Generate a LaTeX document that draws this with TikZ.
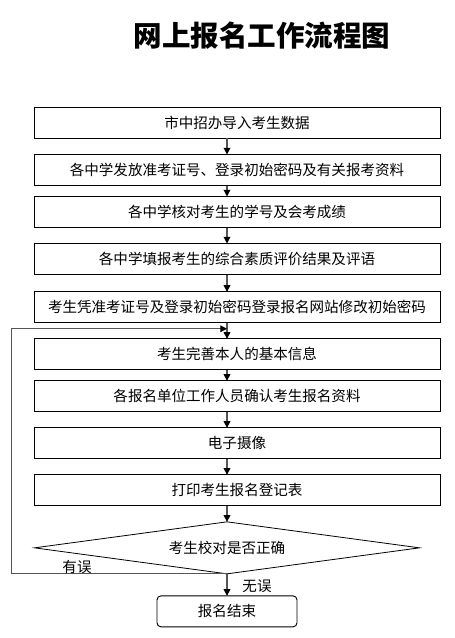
\documentclass[tikz,border=0pt]{standalone}
\usepackage{fontspec}
\setmainfont{Noto Sans CJK SC}
\usepackage{tikz}
\usetikzlibrary{arrows.meta,positioning,calc,shapes.geometric}
\definecolor{mycline}{HTML}{555555}

\begin{document}
\begin{tikzpicture}[
  x=0.75pt,y=-0.75pt,
  node distance=12pt,
  box/.style={draw=black,line width=0.7pt,outer sep=0pt,minimum height=23.25pt,minimum width=304.5pt,inner sep=0pt,align=center,font=\fontsize{10.9}{13}\selectfont},
  check/.style={draw=black,line width=0.6pt,outer sep=0pt,diamond,aspect=7,inner sep=0pt,minimum width=288.75pt,minimum height=39pt,font=\fontsize{10.9}{13}\selectfont},
  stop/.style={draw=black,line width=0.7pt,outer sep=0pt,rounded corners=3pt,minimum height=23.25pt,minimum width=105pt,inner sep=0pt,font=\fontsize{10.9}{13}\selectfont},
  lbl/.style={inner sep=0pt,font=\fontsize{10.9}{13}\selectfont},
  arrow/.style={-{Triangle[length=5pt,width=5pt,color=black]},line width=0.9pt,mycline}
]
\useasboundingbox (0,0) rectangle (454,638);
\node[font=\fontsize{21.4}{25}\selectfont\bfseries] (title) at (262,36) {网上报名工作流程图};

\node[box] (b1) at (237,123) {市中招办导入考生数据};
\node[box,below=of b1] (b2) {各中学发放准考证号、登录初始密码及有关报考资料};
\node[box,below=8.25pt of b2] (b3) {各中学核对考生的学号及会考成绩};
\node[box,below=of b3] (b4) {各中学填报考生的综合素质评价结果及评语};
\node[box,below=13pt of b4] (b5) {考生凭准考证号及登录初始密码登录报名网站修改初始密码};
\node[box,below=of b5] (b6) {考生完善本人的基本信息};
\node[box,below=8.25pt of b6] (b7) {各报名单位工作人员确认考生报名资料};
\node[box,below=of b7] (b8) {电子摄像};
\node[box,below=of b8] (b9) {打印考生报名登记表};
\node[check,below=12pt of b9,xshift=-7.5pt] (chk) {考生校对是否正确};
\node[stop,below=16.5pt of chk] (done) {报名结束};

% loop back on error
\coordinate (loop) at ([xshift=-17.25pt]chk.west);
\coordinate (join) at ($(b5.south -| chk)!0.37!(b6.north -| chk)$);

\draw[arrow] (b1.south -| chk) -- (b2.north -| chk);
\draw[arrow] (b2.south -| chk) -- (b3.north -| chk);
\draw[arrow] (b3.south -| chk) -- (b4.north -| chk);
\draw[arrow] (b4.south -| chk) -- (b5.north -| chk);
\draw[arrow] (b5.south -| chk) -- (b6.north -| chk);
\draw[arrow] (b6.south -| chk) -- (b7.north -| chk);
\draw[arrow] (b7.south -| chk) -- (b8.north -| chk);
\draw[arrow] (b8.south -| chk) -- (b9.north -| chk);
\draw[arrow] (b9.south -| chk) -- (chk.north);
\draw[arrow] (chk.south) -- (done.north);
\draw[arrow] (chk.south) -- (chk.south -| loop) |- (join);

\node[lbl] (wrong) at ([xshift=-112.5pt,yshift=5.25pt]chk.south) {有误};
\node[lbl] (right) at ([xshift=22.5pt,yshift=-9pt]chk.south) {无误};
\end{tikzpicture}
\end{document}
